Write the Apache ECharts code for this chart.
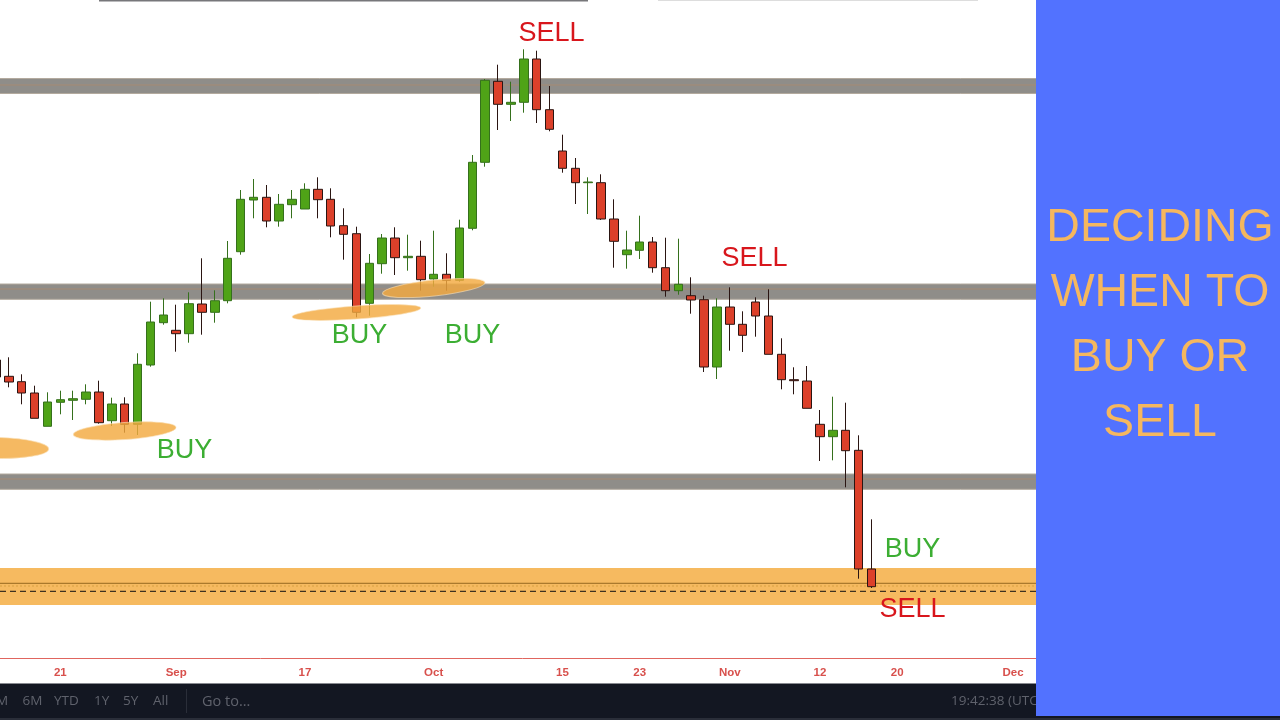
<!DOCTYPE html>
<html>
<head>
<meta charset="utf-8">
<style>html,body{margin:0;padding:0;background:#fff}#c{width:1280px;height:720px}</style>
<script src="https://cdn.jsdelivr.net/npm/echarts@6/dist/echarts.min.js"></script>
</head>
<body>
<div id="c"></div>
<script>
// Category slots: one per trading day, blank unless the axis labels it.
const tickLabels = {5:'21',14:'Sep',24:'17',34:'Oct',44:'15',50:'23',57:'Nov',64:'12',70:'20',79:'Dec'};
const slotCount = 82;
const categories = Array.from({length: slotCount}, (_, i) => tickLabels[i] || '');

// Candle values (the first candle is almost entirely off the left edge)
const opens  = [360,343.7,338.3,327,293.7,317.7,319.7,320.7,328,299.3,316,295.7,355,397.3,389.7,386.3,416,407.7,419.3,468.3,520,522.7,499,515.3,511,530.7,520.7,494.3,486.3,416.7,456.3,482,462.3,463.7,441,445.7,439.7,491.7,557.7,638.7,615.7,617.7,661,610.3,569,551.7,537.3,537.3,501,465.3,469.7,478,452.3,429.3,424.3,420.3,353,413,395.7,418,404,365.7,340.3,339,295.7,283.3,289.7,269.7,151];
const closes = [343,338,327,301.7,318,320.3,321.3,328,297.3,316,295.7,355.7,398,405,386.3,416.3,407.7,419.3,461.7,520.7,522.7,499,515.7,520.7,530.7,520.3,494,485.7,407.7,456.7,482,462.3,463.7,440.3,445.7,439.7,492,557.7,639.7,615.7,617.7,661,610.3,590.7,551.7,537.3,538,501,478.7,470,478,452.3,429.3,435.7,420,353,413,395.7,384.7,404,365.7,340.3,339.3,311.7,283.3,289.7,269.3,151,133.3];
const lows   = [335,332.7,315.7,301.7,293.7,305.7,300,315.7,296.3,294,287.3,285,353.3,395.3,368.3,377.3,385.3,397.3,416.7,465.3,501.7,492.7,493.3,501.7,511,501.7,482.7,460.3,402.7,404.3,446.3,445,449.3,429.3,433.3,429.3,438.3,489.7,553.3,590,599,607.3,597,588.7,547.3,516,506,500,452.3,451.3,461,447.3,423.3,425.3,406.3,348,341,369.3,368,383.3,365.7,330.7,325.7,311.7,259,259.7,232.7,141.3,132];
const highs  = [372,362.7,345.7,334.3,327.7,329.3,329.3,335.7,339.3,322.3,322.7,366.7,418.3,421.7,415.3,427.7,461.7,429.7,479,530,541,535,526,530,536.7,542.7,531.7,511.7,493.3,466,486,492.7,485.3,479.3,489.3,466.7,500.3,565,641,655.3,638.3,670.7,669.3,634,585.3,562,542.7,545.7,520.7,489.3,504.3,483,482.3,481.3,442.7,424.3,421.7,432.7,408.7,422.7,430.7,381.7,352.7,354,310,323.3,317.3,284.7,200.7];

// Horizontal levels
const zoneLows  = [626.5, 420.7, 230.7];
const zoneHighs = [641.5, 436, 246];
const zoneMids  = [635, 431, 241];
const supportLow = 115, supportHigh = 152;
const supportSolid = 136.7, supportDotted = 134, supportDashed = 128.7;

// Highlight ellipses: [slot, price, half width in slots, half height in price, tilt in degrees]
const highlightSlots  = [0, 10, 28, 34];
const highlightPrices = [272, 289, 407.5, 432];
const highlightWidths = [4.1, 4, 5, 4];
const highlightHeights= [10.5, 8.5, 6.5, 8];
const highlightTilts  = [-1, 4, 4, 6];

const buyNotes  = [['BUY',184.5,451],['BUY',359.5,336],['BUY',472.5,336],['BUY',912.5,550]];
const sellNotes = [['SELL',551.5,34],['SELL',754.5,259],['SELL',912.5,610]];
const titleLines = [['DECIDING',228],['WHEN TO',293],['BUY OR',358],['SELL',423]];
const toolbarItems = [['M',-4,13.5],['6M',22.5,13.5],['YTD',54,13.5],['1Y',94,13.5],['5Y',123,13.5],['All',153,13.5],['Go to...',202,14.5],['19:42:38 (UTC)',951,13.5]];

const candleData = opens.map((o, i) => [o, closes[i], lows[i], highs[i]]);
const zoneData = zoneLows.map((l, i) => [l, zoneHighs[i], zoneMids[i]]);
const ellipseData = highlightSlots.map((s, i) => [s, highlightPrices[i], highlightWidths[i], highlightHeights[i], highlightTilts[i]]);

const uiFont = '"Open Sans", sans-serif';
const noteFont = '27px "Liberation Sans", Arial, sans-serif';
const textEl = (t, x, y, font, fill, align, z) => ({
  type:'text', x, y, z:z||200, silent:true,
  style:{text:t, font, fill, textAlign:align||'center', textVerticalAlign:'middle'}
});
const rectEl = (x, y, w, h, fill, z) => ({type:'rect', z:z||100, silent:true, shape:{x,y,width:w,height:h}, style:{fill}});

const graphics = [
  rectEl(99,0,489,1.5,'#77777a'),
  rectEl(658,0,320,1,'#dddddd'),
  rectEl(0,683.5,1280,34.5,'#131722'),
  rectEl(0,718,1280,2,'#2a2e39'),
  rectEl(186,689,1,24,'#2a2e39',101),
  ...toolbarItems.map(t => textEl(t[0], t[1], 701.5, t[2]+'px '+uiFont, '#5f626c', 'left', 110)),
  rectEl(1036,0,244,716,'#5272ff',150),
  ...titleLines.map(t => textEl(t[0], 1160, t[1], '46.5px "Liberation Sans", Arial, sans-serif', '#f5b75f')),
  ...buyNotes.map(t => textEl(t[0], t[1], t[2], noteFont, '#3cae33')),
  ...sellNotes.map(t => textEl(t[0], t[1], t[2], noteFont, '#d8161c'))
];

const chart = echarts.init(document.getElementById('c'), null, {renderer:'canvas', width:1280, height:720});
chart.setOption({
  animation:false,
  backgroundColor:'#ffffff',
  grid:{left:-10.5, top:0, width:1055.8, height:658, containLabel:false, outerBoundsMode:'none'},
  xAxis:{
    type:'category', data:categories, boundaryGap:true,
    axisLine:{lineStyle:{color:'#e0655e', width:1}},
    axisTick:{alignWithLabel:true, length:3, lineStyle:{color:'#e0655e'}, interval:(i,v)=>v!==''},
    axisLabel:{interval:(i,v)=>v!=='', color:'#d8504c', fontWeight:'bold', fontSize:11.5, fontFamily:'"Liberation Sans", Arial, sans-serif', margin:9},
    splitLine:{show:false}
  },
  yAxis:{type:'value', min:62, max:720, show:false, splitLine:{show:false}},
  graphic:{elements:graphics},
  series:[
    { // grey resistance / support bands
      type:'custom', z:1, silent:true, clip:false, data:zoneData,
      renderItem:(p, api) => {
        const top = api.coord([0, api.value(1)])[1], bot = api.coord([0, api.value(0)])[1], mid = api.coord([0, api.value(2)])[1];
        return {type:'group', children:[
          {type:'rect', shape:{x:-5,y:top,width:1290,height:bot-top}, style:{fill:'#8f8d89', stroke:'#b3aa9e', lineWidth:1}},
          {type:'line', shape:{x1:0,y1:mid,x2:1280,y2:mid}, style:{stroke:'#a68a72', lineWidth:1}}
        ]};
      }
    },
    { // orange demand zone
      type:'custom', z:1, silent:true, clip:false, data:[[supportLow, supportHigh, supportSolid, supportDotted, supportDashed]],
      renderItem:(p, api) => {
        const y = d => api.coord([0, api.value(d)])[1];
        return {type:'group', children:[
          {type:'rect', shape:{x:0,y:y(1),width:1280,height:y(0)-y(1)}, style:{fill:'#f6ba60'}},
          {type:'line', shape:{x1:0,y1:y(2),x2:1280,y2:y(2)}, style:{stroke:'#96681f', lineWidth:1}},
          {type:'line', shape:{x1:0,y1:y(3),x2:1280,y2:y(3)}, style:{stroke:'#d8a040', lineWidth:1, lineDash:[2,2]}},
          {type:'line', shape:{x1:0,y1:y(4),x2:1280,y2:y(4)}, style:{stroke:'#111111', lineWidth:1, lineDash:[6,4]}}
        ]};
      }
    },
    {
      type:'candlestick', z:5, barWidth:9, data:candleData, silent:true,
      itemStyle:{color:'#4fa317', color0:'#dc402a', borderColor:'#35701c', borderColor0:'#2a1512', borderWidth:1}
    },
    { // translucent highlight ellipses
      type:'custom', z:8, silent:true, clip:false, data:ellipseData, encode:{x:0,y:1},
      renderItem:(p, api) => {
        const c = api.coord([api.value(0), api.value(1)]);
        const rx = api.value(2) * api.size([1, 0])[0], ry = api.size([0, api.value(3)])[1];
        return {type:'ellipse', x:c[0], y:c[1], rotation:api.value(4)*Math.PI/180,
          shape:{cx:0,cy:0,rx,ry},
          style:{fill:'rgba(243,169,63,0.82)', stroke:'rgba(250,225,185,0.6)', lineWidth:1}};
      }
    }
  ]
});
</script>
</body>
</html>
